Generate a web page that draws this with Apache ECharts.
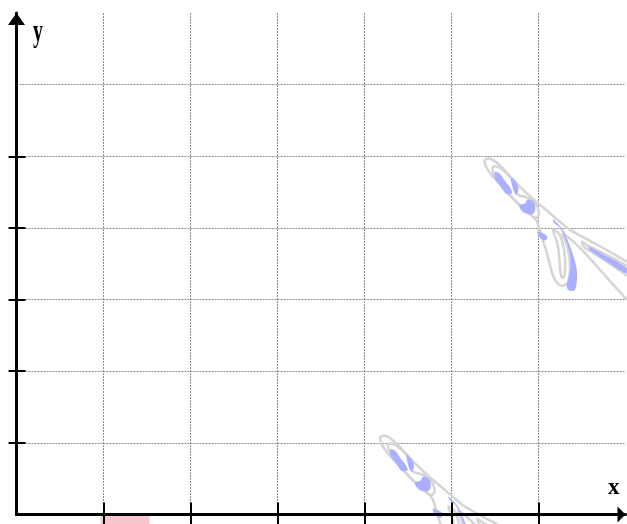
<!DOCTYPE html>
<html><head><meta charset="utf-8">
<script src="https://cdn.jsdelivr.net/npm/echarts@6/dist/echarts.min.js"></script>
<style>html,body{margin:0;padding:0;background:#fff}#c{width:627px;height:524px}</style>
</head><body><div id="c"></div>
<script>
// ---- data ----
const xTickValues = [1, 2, 3, 4, 5, 6];
const yTickValues = [1, 2, 3, 4, 5];
const axisMin = 0;
const axisMax = 7;

// gray contour lines (open)
const outerContour = [
  [7.017,3.527],[6.822,3.666],[6.592,3.820],[6.362,3.973],[6.247,4.085],[6.098,4.239],
  [5.937,4.406],[5.787,4.574],[5.638,4.770],[5.523,4.909],[5.443,4.966],[5.385,4.952],
  [5.397,4.853],[5.477,4.714],[5.592,4.560],[5.707,4.406],[5.810,4.295],[5.902,4.197],
  [5.983,4.085],[6.029,3.904],[6.086,3.694],[6.132,3.485],[6.167,3.332],[6.224,3.220],
  [6.282,3.192],[6.339,3.248],[6.362,3.415],[6.351,3.624],[6.316,3.792],[6.282,3.918],
  [6.477,3.722],[6.707,3.415],[7.017,2.996]
];
const armContour = [
  [7.017,3.471],[6.764,3.638],[6.569,3.750],[6.500,3.806],[6.523,3.736],[6.649,3.638],
  [6.822,3.499],[7.017,3.332]
];
// gray contour lines (closed)
const upperInnerContour = [
  [5.477,4.853],[5.557,4.839],[5.661,4.728],[5.730,4.630],[5.718,4.546],[5.764,4.462],
  [5.845,4.434],[5.925,4.392],[5.983,4.309],[6.006,4.197],[5.971,4.141],[5.879,4.211],
  [5.776,4.323],[5.661,4.476],[5.557,4.616],[5.489,4.742]
];
const hookInnerContour = [
  [6.167,3.973],[6.213,3.806],[6.236,3.624],[6.247,3.457],[6.259,3.332],[6.282,3.304],
  [6.305,3.387],[6.305,3.582],[6.282,3.764],[6.236,3.918]
];
// blue filled regions
const blueStrip1 = [[5.500,4.780],[5.560,4.750],[5.618,4.650],[5.675,4.560],[5.697,4.485],[5.630,4.475],[5.560,4.590],[5.505,4.680]];
const blueStrip2 = [[5.684,4.700],[5.745,4.635],[5.770,4.546],[5.745,4.466],[5.705,4.560]];
const blueBlob = [[5.879,4.400],[5.940,4.370],[5.965,4.281],[5.940,4.200],[5.860,4.200],[5.800,4.250],[5.780,4.315],[5.845,4.345]];
const blueBit = [[5.990,3.950],[6.100,3.885],[6.080,3.825],[6.010,3.870]];
const blueCrescent = [
  [6.167,4.120],[6.275,3.980],[6.345,3.795],[6.405,3.596],[6.440,3.415],[6.440,3.240],
  [6.415,3.135],[6.362,3.122],[6.325,3.170],[6.345,3.304],[6.368,3.457],[6.358,3.652],
  [6.312,3.834],[6.245,4.001],[6.178,4.071]
];
const blueArm = [[6.569,3.740],[6.764,3.620],[7.017,3.440],[7.017,3.365],[6.764,3.545],[6.610,3.675]];

// the same pattern appears twice
const copyOffsets = [[0, 0], [-1.201, -3.869]];

// pink bar under the x axis: [x0, x1, y0, y1]
const pinkBar = [0.966, 1.529, 0, -0.3];

// ---- build ----
const grayColor = '#d5d5d5';
const blueColor = '#aab0ff';
const items = [];
copyOffsets.forEach(function (off) {
  const shift = function (pts) { return pts.map(function (p) { return [p[0] + off[0], p[1] + off[1]]; }); };
  [outerContour, armContour].forEach(function (p) { items.push({ kind: 'line', pts: shift(p) }); });
  [upperInnerContour, hookInnerContour].forEach(function (p) { items.push({ kind: 'loop', pts: shift(p) }); });
  [blueStrip1, blueStrip2, blueBlob, blueBit, blueCrescent, blueArm].forEach(function (p) { items.push({ kind: 'fill', pts: shift(p) }); });
});

const chart = echarts.init(document.getElementById('c'), null, { renderer: 'canvas' });

function baseAxis(extra) {
  return Object.assign({
    type: 'value', min: axisMin, max: axisMax, interval: 1,
    axisLabel: { show: false },
    splitLine: { show: false },
    axisTick: { show: false },
    axisLine: { show: false }
  }, extra);
}
const tickStyle = { color: '#000', width: 2 };
const gridLineStyle = { color: '#8c8c8c', width: 1, type: [2, 1] };

chart.setOption({
  animation: false,
  backgroundColor: '#fff',
  grid: { left: 16.5, right: 1.5, top: 13, bottom: 9.5 },
  xAxis: [
    baseAxis({ position: 'bottom', z: 6,
      axisLine: { show: true, symbol: ['none', 'triangle'], symbolSize: [16, 8], symbolOffset: [0, -4],
        lineStyle: { color: '#000', width: 3 } },
      axisTick: { show: true, customValues: xTickValues, length: 10, lineStyle: tickStyle } }),
    baseAxis({ position: 'bottom', z: 6,
      axisTick: { show: true, inside: true, customValues: xTickValues, length: 12, lineStyle: tickStyle } }),
    baseAxis({ position: 'bottom', z: 0,
      splitLine: { show: true, showMinLine: false, showMaxLine: false, lineStyle: gridLineStyle } })
  ],
  yAxis: [
    baseAxis({ position: 'left', z: 6,
      axisLine: { show: true, symbol: ['none', 'triangle'], symbolSize: [17, 12], symbolOffset: [0, -6],
        lineStyle: { color: '#000', width: 3 } },
      axisTick: { show: true, customValues: yTickValues, length: 8, lineStyle: tickStyle } }),
    baseAxis({ position: 'left', z: 6,
      axisTick: { show: true, inside: true, customValues: yTickValues, length: 9, lineStyle: tickStyle } }),
    baseAxis({ position: 'left', z: 0,
      splitLine: { show: true, showMinLine: false, showMaxLine: false, lineStyle: gridLineStyle } })
  ],
  graphic: [
    { type: 'text', x: 33, y: 18, scaleX: 0.83, scaleY: 1.29, z: 10,
      style: { text: 'y', font: 'bold 24px "Liberation Serif"', fill: '#000', align: 'left', verticalAlign: 'top' } },
    { type: 'text', x: 608, y: 477, z: 10,
      style: { text: 'x', font: 'bold 23px "Liberation Serif"', fill: '#000', align: 'left', verticalAlign: 'top' } }
  ],
  series: [
    {
      type: 'custom', name: 'bar', xAxisIndex: 0, yAxisIndex: 0, z: 1, clip: false, silent: true,
      data: [pinkBar],
      encode: { x: [0, 1], y: [2, 3] },
      renderItem: function (params, api) {
        const a = api.coord([api.value(0), api.value(2)]);
        const b = api.coord([api.value(1), api.value(3)]);
        return { type: 'rect', shape: { x: a[0], y: a[1], width: b[0] - a[0], height: b[1] - a[1] },
          style: { fill: '#f8c6ce' } };
      }
    },
    {
      type: 'custom', name: 'contours', xAxisIndex: 0, yAxisIndex: 0, z: 2, clip: false, silent: true,
      data: items.map(function (it, i) { return [it.pts[0][0], it.pts[0][1], i]; }),
      encode: { x: 0, y: 1 },
      renderItem: function (params, api) {
        const it = items[api.value(2)];
        const pts = it.pts.map(function (p) { return api.coord(p); });
        if (it.kind === 'fill') {
          return { type: 'polygon', z2: 3, shape: { points: pts, smooth: 0.35 }, style: { fill: blueColor } };
        }
        if (it.kind === 'loop') {
          return { type: 'polygon', z2: 1, shape: { points: pts, smooth: 0.35 },
            style: { fill: 'none', stroke: grayColor, lineWidth: 2.5 } };
        }
        return { type: 'polyline', z2: 1, shape: { points: pts, smooth: 0.3 },
          style: { fill: 'none', stroke: grayColor, lineWidth: 2.5 } };
      }
    }
  ]
});
</script>
</body></html>
